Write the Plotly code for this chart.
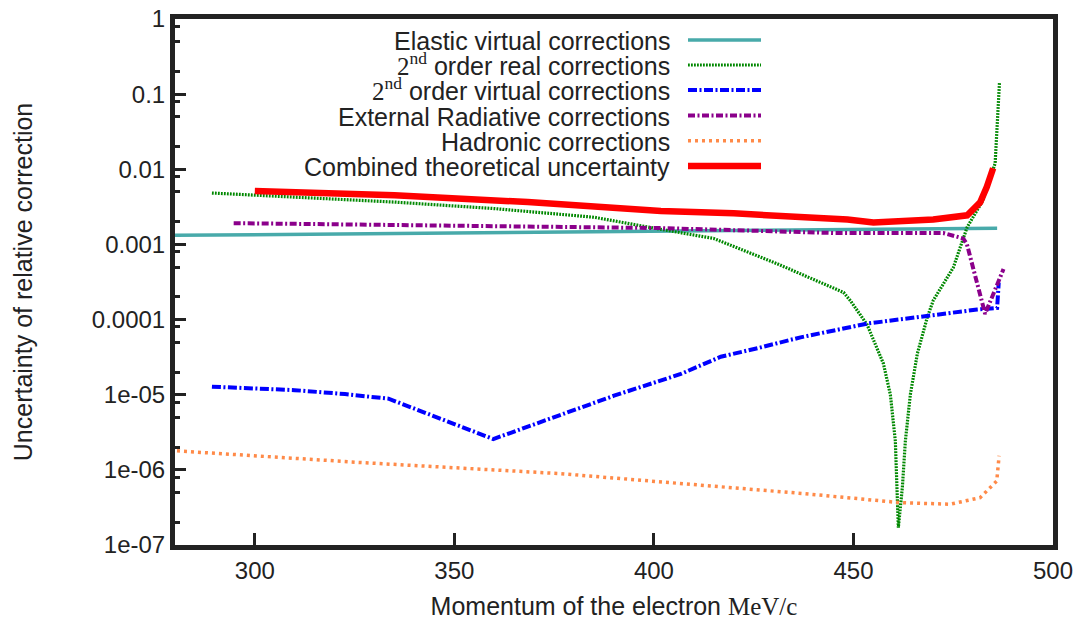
import plotly.graph_objects as go

# ---------------- data ----------------
x_range = [280, 500]
x_ticks = [300, 350, 400, 450, 500]
y_tick_vals = [1e-7, 1e-6, 1e-5, 1e-4, 1e-3, 1e-2, 1e-1, 1]
y_tick_text = ["1e-07", "1e-06", "1e-05", "0.0001", "0.001", "0.01", "0.1", "1"]
y_minor_mult = [2, 5, 8]

elastic_x = [280, 400, 486]
elastic_y = [1.32e-3, 1.49e-3, 1.64e-3]

real_x = [289.25, 300, 335, 360, 385, 400, 415, 431, 447.5, 449.25, 453.4, 457.5,
          459.25, 460.5, 461.25, 462.25, 463, 464.25, 466, 468.5, 470, 475, 478.5,
          482.5, 485.5, 486.6]
real_y = [4.83e-3, 4.5e-3, 3.66e-3, 3.0e-3, 2.3e-3, 1.65e-3, 1.2e-3, 5.5e-4, 2.3e-4,
          1.78e-4, 8.6e-5, 2.6e-5, 1.0e-5, 2.4e-6, 1.7e-7, 5.8e-7, 2.4e-6, 1.0e-5,
          3.5e-5, 1.07e-4, 1.8e-4, 4.9e-4, 1.7e-3, 3.9e-3, 1.2e-2, 0.146]

virt_x = [289.25, 310, 322.6, 333.5, 359.75, 373.4, 390, 406.75, 416.75, 426, 436.75,
          453.5, 468.5, 481, 486, 486.4]
virt_y = [1.28e-5, 1.15e-5, 1.02e-5, 8.85e-6, 2.57e-6, 4.74e-6, 9.7e-6, 1.89e-5,
          3.2e-5, 4.17e-5, 5.8e-5, 8.85e-5, 1.13e-4, 1.36e-4, 1.43e-4, 3.1e-4]

ext_x = [294.7, 335, 368.4, 401.75, 445, 472.5, 477.5, 478.4, 483, 487.6]
ext_y = [1.92e-3, 1.83e-3, 1.74e-3, 1.65e-3, 1.42e-3, 1.42e-3, 1.2e-3, 1.02e-3,
         1.19e-4, 4.7e-4]

had_x = [280.5, 326.75, 376.25, 437.6, 461.75, 474.25, 481.75, 485.9, 486.5]
had_y = [1.79e-6, 1.25e-6, 8.93e-7, 4.83e-7, 3.66e-7, 3.49e-7, 4.27e-7, 7.1e-7, 1.54e-6]

comb_x = [300, 335, 368.4, 386.75, 401.75, 420, 448.5, 455, 470, 478.5, 481.75,
          483.4, 485]
comb_y = [5.14e-3, 4.5e-3, 3.66e-3, 3.08e-3, 2.78e-3, 2.59e-3, 2.15e-3, 1.96e-3,
          2.15e-3, 2.44e-3, 3.63e-3, 5.8e-3, 1.03e-2]

SERIF = "'Liberation Serif', 'DejaVu Serif', serif"
SANS = "Liberation Sans, Arial, sans-serif"
names = [
    "Elastic virtual corrections",
    f"<span style=\"font-family:{SERIF}\">2<sup>nd</sup></span> order real corrections",
    f"<span style=\"font-family:{SERIF}\">2<sup>nd</sup></span> order virtual corrections",
    "External Radiative corrections",
    "Hadronic corrections",
    "Combined theoretical uncertainty",
]

series = [
    (elastic_x, elastic_y, dict(color="#48aaaa", width=3.5, dash="solid")),
    (real_x, real_y, dict(color="#008800", width=3.2, dash="1.8px,1.2px")),
    (virt_x, virt_y, dict(color="#0000ff", width=4, dash="9px,2.5px,2px,2.5px")),
    (ext_x, ext_y, dict(color="#8b008b", width=4, dash="7px,2.5px,2px,2.5px")),
    (had_x, had_y, dict(color="#ff8a48", width=3.5, dash="3px,4px")),
    (comb_x, comb_y, dict(color="#ff0000", width=6.5, dash="solid")),
]

fig = go.Figure()
for (xs, ys, ln), nm in zip(series, names):
    fig.add_trace(go.Scatter(x=xs, y=ys, mode="lines", line=ln, name=nm,
                             showlegend=False, hoverinfo="skip"))

# ---------------- layout ----------------
W, H = 1084, 620
ML, MR, MT, MB = 175, 31, 19, 75
pw, ph = W - ML - MR, H - MT - MB

def px2paper_x(px):
    return (px - ML) / pw

def px2paper_y(py):
    return (H - MB - py) / ph

INK = "#222222"

# custom legend: right-aligned text with line sample to the right
leg_rows = [40, 65, 90, 115.5, 140.7, 166]
text_right = 672
line_x0, line_x1 = 688, 761
annotations = []
shapes = []
for i, ((xs, ys, ln), nm) in enumerate(zip(series, names)):
    yshift = 2 if "sup" in nm else 0
    annotations.append(dict(
        x=px2paper_x(text_right), y=px2paper_y(leg_rows[i] + 1), xref="paper", yref="paper",
        text=nm, showarrow=False, xanchor="right", yanchor="middle", yshift=yshift,
        font=dict(family=SANS, size=25, color=INK)))
    shapes.append(dict(
        type="line", xref="paper", yref="paper",
        x0=px2paper_x(line_x0), x1=px2paper_x(line_x1),
        y0=px2paper_y(leg_rows[i]), y1=px2paper_y(leg_rows[i]),
        line=dict(color=ln["color"], width=ln["width"], dash=ln["dash"])))

minor_vals = [m * 10.0 ** k for k in range(-7, 0) for m in y_minor_mult]

fig.update_layout(
    width=W, height=H,
    margin=dict(l=ML, r=MR, t=MT, b=MB, pad=0, autoexpand=False),
    paper_bgcolor="white", plot_bgcolor="white",
    font=dict(family=SANS, size=24, color=INK),
    annotations=annotations, shapes=shapes,
    showlegend=False,
)
fig.update_xaxes(
    range=x_range, tickmode="array", tickvals=x_ticks, automargin=False,
    ticks="inside", ticklen=12, tickwidth=3, tickcolor=INK,
    showline=True, linewidth=5, linecolor=INK, mirror=True,
    showgrid=False, zeroline=False,
    tickfont=dict(family=SANS, size=24, color=INK),
    title=dict(text=f"Momentum of the electron <span style=\"font-family:{SERIF}\">MeV/c</span>",
               font=dict(family=SANS, size=25, color=INK), standoff=20),
)
fig.update_yaxes(
    type="log", range=[-7, 0], tickmode="array", tickvals=y_tick_vals, ticktext=y_tick_text,
    automargin=False,
    ticks="inside", ticklen=11, tickwidth=3, tickcolor=INK,
    minor=dict(tickmode="array", tickvals=minor_vals, ticks="inside", ticklen=5,
               tickwidth=3, tickcolor=INK, showgrid=False),
    showline=True, linewidth=5, linecolor=INK, mirror=True,
    showgrid=False, zeroline=False,
    tickfont=dict(family=SANS, size=24, color=INK),
    title=dict(text="Uncertainty of relative correction",
               font=dict(family=SANS, size=25, color=INK), standoff=54),
)

fig.write_html("out.html", config={"displayModeBar": False},
               post_script="document.body.style.margin='0';")
